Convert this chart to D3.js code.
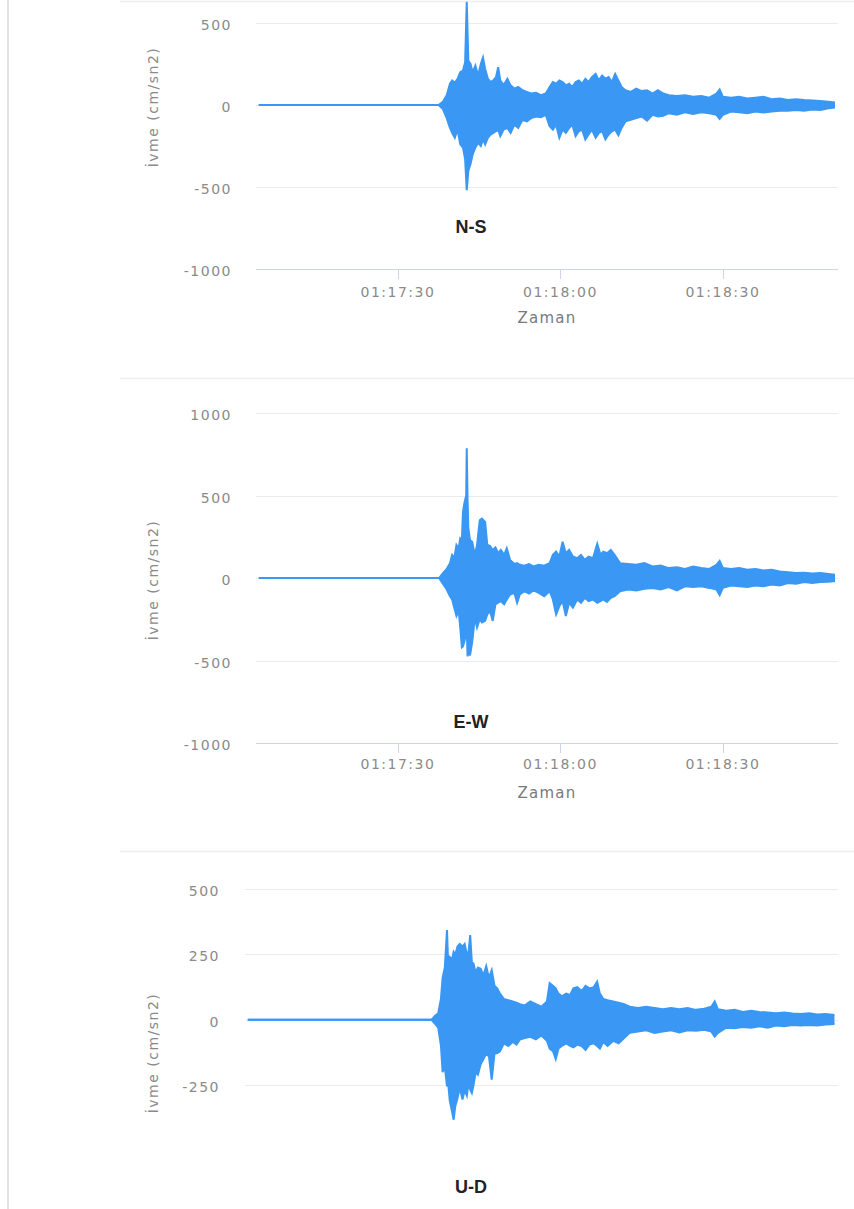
<!DOCTYPE html>
<html>
<head>
<meta charset="utf-8">
<script src="https://cdn.jsdelivr.net/npm/d3@7"></script>
<style>
  html, body { margin: 0; padding: 0; background: #fff; }
  svg { display: block; }
</style>
</head>
<body>
<svg id="chart" width="854" height="1209"></svg>
<script>
// ---------- DATA (time = seconds after 01:17:00, values in cm/sn2) ----------
const panelTitles = ["N-S", "E-W", "U-D"];
const yAxisTitle = "İvme (cm/sn2)";
const xAxisTitle = "Zaman";
const ticksNSEW = [-1000, -500, 0, 500, 1000];
const ticksUD = [-250, 0, 250, 500];
const timeTickSeconds = [30, 60, 90];   // 01:17:30, 01:18:00, 01:18:30

// N-S component: upper and lower envelope of the record
const nsTime  = [4.3, 37.5, 38.3, 39.0, 39.6, 40.0, 40.5, 41.0, 41.5, 42.0, 42.4, 42.7, 43.0, 43.4, 43.8, 44.3, 44.8, 45.3, 45.7, 46.1, 46.6, 47.1, 47.6, 48.1, 48.5, 48.9, 49.5, 50.2, 50.8, 51.5, 52.2, 53.0, 53.8, 54.6, 55.5, 56.4, 57.3, 58.0, 58.6, 59.2, 59.8, 60.4, 61.0, 61.6, 62.2, 62.8, 63.4, 64.0, 64.6, 65.2, 65.8, 66.5, 67.1, 67.7, 68.3, 68.9, 69.5, 70.1, 70.7, 71.3, 72.0, 73.0, 74.0, 75.0, 76.0, 77.0, 78.0, 79.0, 80.0, 81.5, 83.0, 84.5, 86.0, 87.5, 88.8, 89.4, 90.0, 91.5, 93.0, 94.5, 96.0, 97.5, 99.0, 100.5, 102.0, 103.5, 105.0, 106.5, 108.0, 109.5, 110.7];
const nsUpper = [0, 0, 20, 60, 130, 150, 135, 160, 200, 210, 260, 630, 270, 250, 200, 240, 180, 250, 290, 220, 160, 140, 150, 170, 230, 150, 120, 160, 120, 100, 110, 90, 80, 70, 75, 60, 70, 110, 140, 130, 150, 140, 120, 130, 110, 140, 150, 130, 160, 140, 170, 190, 150, 180, 160, 170, 140, 190, 150, 110, 90, 80, 100, 85, 90, 70, 90, 70, 60, 55, 60, 50, 55, 45, 70, 95, 50, 45, 50, 40, 45, 50, 35, 40, 30, 35, 30, 28, 25, 20, 15];
const nsLower = [0, 0, -25, -80, -140, -170, -200, -150, -240, -260, -330, -520, -400, -360, -300, -260, -230, -250, -210, -240, -200, -180, -170, -160, -150, -190, -150, -140, -170, -120, -140, -90, -100, -80, -70, -75, -60, -130, -150, -120, -200, -150, -170, -140, -120, -190, -160, -150, -210, -180, -150, -200, -170, -160, -210, -180, -160, -150, -185, -140, -100, -90, -80, -70, -95, -60, -70, -65, -50, -60, -45, -55, -45, -50, -60, -85, -60, -40, -45, -50, -40, -45, -40, -35, -35, -30, -35, -28, -30, -20, -15];

// E-W component
const ewTime  = [4.3, 37.6, 38.3, 39.0, 39.6, 40.0, 40.4, 40.8, 41.2, 41.5, 41.8, 42.0, 42.3, 42.6, 42.7, 42.85, 43.0, 43.3, 43.7, 44.2, 44.6, 45.1, 45.5, 46.1, 46.5, 47.0, 47.5, 48.0, 48.5, 49.0, 49.6, 50.1, 50.7, 51.5, 52.0, 52.5, 53.3, 54.2, 55.0, 56.0, 57.0, 58.0, 58.6, 59.2, 59.8, 60.4, 61.0, 61.6, 62.3, 63.1, 63.8, 64.5, 65.2, 66.0, 66.8, 67.4, 67.9, 68.6, 69.3, 70.0, 71.0, 72.5, 74.0, 75.5, 77.0, 78.5, 80.0, 81.5, 83.0, 84.5, 86.0, 87.5, 88.8, 89.4, 90.0, 91.5, 93.0, 94.5, 96.0, 97.5, 99.0, 100.5, 102.0, 103.5, 105.0, 106.5, 108.0, 109.5, 110.7];
const ewUpper = [0, 0, 30, 55, 90, 140, 120, 200, 180, 240, 230, 400, 460, 500, 787, 480, 300, 230, 220, 140, 200, 350, 360, 340, 200, 195, 170, 185, 150, 170, 140, 180, 110, 85, 90, 80, 75, 85, 70, 80, 75, 90, 140, 160, 130, 220, 150, 170, 130, 120, 140, 110, 130, 120, 207, 140, 160, 150, 170, 140, 90, 85, 80, 90, 70, 75, 60, 65, 55, 70, 60, 55, 80, 104, 60, 55, 60, 50, 55, 45, 50, 40, 35, 30, 32, 28, 30, 25, 20];
const ewLower = [0, 0, -35, -70, -110, -130, -180, -230, -200, -300, -420, -415, -380, -320, -310, -475, -440, -470, -390, -240, -300, -250, -270, -260, -220, -200, -260, -160, -150, -140, -160, -130, -100, -90, -150, -100, -80, -95, -75, -90, -110, -80, -130, -220, -170, -140, -230, -150, -180, -130, -150, -120, -140, -130, -150, -140, -130, -145, -120, -110, -80, -70, -75, -65, -60, -70, -55, -75, -50, -55, -50, -60, -70, -104, -60, -45, -50, -55, -45, -50, -40, -45, -30, -35, -25, -30, -25, -22, -18];

// U-D component
const udTime  = [4.3, 37.6, 38.2, 38.8, 39.3, 39.6, 40.0, 40.4, 40.6, 40.9, 41.3, 41.6, 41.9, 42.3, 42.7, 43.2, 43.6, 44.0, 44.3, 44.6, 44.9, 45.2, 45.6, 46.0, 46.5, 47.0, 47.5, 48.0, 48.5, 49.0, 49.5, 50.0, 50.7, 51.5, 52.3, 53.0, 53.6, 54.5, 55.5, 56.5, 57.5, 58.5, 59.0, 59.6, 60.1, 60.6, 61.2, 62.0, 62.7, 63.3, 64.0, 64.8, 65.5, 66.2, 67.0, 67.6, 68.1, 68.7, 69.5, 70.5, 71.5, 72.5, 73.5, 75.0, 76.5, 78.0, 79.5, 81.0, 82.5, 84.0, 85.5, 87.0, 88.3, 88.9, 89.5, 91.0, 92.5, 94.0, 95.5, 97.0, 98.5, 100.0, 101.5, 103.0, 104.5, 106.0, 107.5, 109.0, 110.6];
const udUpper = [0, 0, 15, 25, 80, 160, 200, 343, 220, 240, 230, 260, 250, 280, 290, 280, 290, 250, 260, 324, 220, 215, 180, 200, 195, 170, 205, 160, 190, 130, 120, 100, 80, 75, 70, 65, 60, 55, 70, 60, 50, 70, 140, 130, 120, 100, 90, 100, 95, 120, 125, 110, 130, 120, 125, 146, 100, 80, 75, 70, 65, 60, 50, 45, 50, 45, 40, 45, 40, 45, 38, 42, 50, 70, 40, 35, 38, 30, 35, 30, 28, 25, 28, 24, 22, 25, 20, 22, 18];
const udLower = [0, 0, -15, -30, -100, -200, -180, -255, -240, -310, -350, -382, -330, -300, -260, -305, -270, -290, -240, -267, -280, -250, -200, -210, -170, -150, -130, -140, -229, -130, -127, -120, -90, -100, -85, -95, -75, -70, -65, -75, -60, -80, -110, -120, -150, -110, -100, -90, -100, -105, -95, -100, -115, -95, -90, -100, -110, -85, -100, -80, -90, -70, -50, -45, -40, -50, -45, -40, -48, -40, -42, -38, -45, -64, -50, -30, -32, -28, -30, -25, -30, -22, -25, -20, -22, -20, -22, -18, -16];

// ---------- DRAWING ----------
const W = 854, H = 1209;
const svg = d3.select("#chart");
const blue = "#3a98f4";
const base = new Date(2020, 0, 1, 1, 17, 0);
const toDate = s => new Date(base.getTime() + s * 1000);
const tStart = toDate(4.34), tEnd = toDate(110.7);
const fmt = d3.timeFormat("%H:%M:%S");
const labelFont = "DejaVu Sans, Verdana, sans-serif";
const visible = yy => yy > 12 && yy < H - 4;

// page decoration: left border and panel separators
svg.append("line").attr("x1", 8).attr("x2", 8).attr("y1", 0).attr("y2", H)
  .attr("stroke", "#dadada").attr("stroke-width", 1.5);
[1, 378, 851].forEach(y => {
  svg.append("line").attr("x1", 120).attr("x2", W).attr("y1", y + 0.5).attr("y2", y + 0.5)
    .attr("stroke", "#efefef").attr("stroke-width", 1.5);
});

const panels = [
  { title: panelTitles[0], time: nsTime, up: nsUpper, lo: nsLower,
    left: 259, right: 835, yDomain: [-1000, 1000], yRange: [269, -59], ticks: ticksNSEW,
    labelRight: 232, titleY: 233, axisTitleY: 107, tickLabelY: 297, xTitleY: 323 },
  { title: panelTitles[1], time: ewTime, up: ewUpper, lo: ewLower,
    left: 259, right: 835, yDomain: [-1000, 1000], yRange: [743, 413], ticks: ticksNSEW,
    labelRight: 232, titleY: 728, axisTitleY: 580, tickLabelY: 769, xTitleY: 798 },
  { title: panelTitles[2], time: udTime, up: udUpper, lo: udLower,
    left: 248, right: 835, yDomain: [-750, 500], yRange: [1216, 889], ticks: ticksUD,
    labelRight: 220, titleY: 1193, axisTitleY: 1053, tickLabelY: 1240, xTitleY: 1266 }
];

panels.forEach(p => {
  const g = svg.append("g");
  const x = d3.scaleTime().domain([tStart, tEnd]).range([p.left, p.right]);
  const y = d3.scaleLinear().domain(p.yDomain).range(p.yRange);
  const bottom = p.yRange[0];

  // gridlines
  p.ticks.forEach(v => {
    if (v === p.yDomain[0]) return;
    const gy = Math.round(y(v)) + 0.5;
    if (gy < 0 || gy > H) return;
    g.append("line").attr("x1", p.left - 3).attr("x2", 838)
      .attr("y1", gy).attr("y2", gy).attr("stroke", "#ebebeb").attr("stroke-width", 1);
  });
  // y labels (only those inside the page)
  p.ticks.filter(v => visible(y(v))).forEach(v => {
    g.append("text").attr("x", p.labelRight).attr("y", y(v) + 7)
      .attr("text-anchor", "end").attr("font-family", labelFont).attr("font-size", 14)
      .attr("letter-spacing", "1.5px").attr("fill", "#8a8a8a").text(v);
  });
  // y axis title
  g.append("text").attr("transform", `translate(158,${p.axisTitleY}) rotate(-90)`)
    .attr("text-anchor", "middle").attr("font-family", labelFont).attr("font-size", 14)
    .attr("letter-spacing", "1.5px").attr("fill", "#8a8a8a").text(yAxisTitle);

  // x axis (only drawn where it is inside the page)
  if (bottom < H) {
    g.append("line").attr("x1", p.left - 3).attr("x2", 838)
      .attr("y1", bottom + 0.5).attr("y2", bottom + 0.5).attr("stroke", "#ccd6eb");
    timeTickSeconds.map(toDate).forEach(d => {
      g.append("line").attr("x1", Math.round(x(d)) + 0.5).attr("x2", Math.round(x(d)) + 0.5)
        .attr("y1", bottom).attr("y2", bottom + 10).attr("stroke", "#ccd6eb");
      g.append("text").attr("x", x(d)).attr("y", p.tickLabelY).attr("text-anchor", "middle")
        .attr("font-family", labelFont).attr("font-size", 14).attr("letter-spacing", "1.5px")
        .attr("fill", "#8a8a8a").text(fmt(d));
    });
    g.append("text").attr("x", 547).attr("y", p.xTitleY).attr("text-anchor", "middle")
      .attr("font-family", labelFont).attr("font-size", 15).attr("letter-spacing", "1.2px")
      .attr("fill", "#7a7a7a").text(xAxisTitle);
  }

  // data
  const rows = p.time.map((t, i) => ({ d: toDate(t), up: p.up[i], lo: p.lo[i] }));
  const area = d3.area().x(r => x(r.d)).y0(r => y(r.lo)).y1(r => y(r.up));
  g.append("path").datum(rows).attr("d", area).attr("fill", blue);
  const lineUp = d3.line().x(r => x(r.d)).y(r => y(r.up));
  const lineLo = d3.line().x(r => x(r.d)).y(r => y(r.lo));
  [lineUp, lineLo].forEach(ln => {
    g.append("path").datum(rows).attr("d", ln).attr("fill", "none")
      .attr("stroke", blue).attr("stroke-width", 2).attr("stroke-linejoin", "miter");
  });

  // panel title
  g.append("text").attr("x", 471).attr("y", p.titleY).attr("text-anchor", "middle")
    .attr("font-family", "Liberation Sans, Arial, sans-serif").attr("font-weight", "bold")
    .attr("font-size", 18).attr("fill", "#222").text(p.title);
});
</script>
</body>
</html>
